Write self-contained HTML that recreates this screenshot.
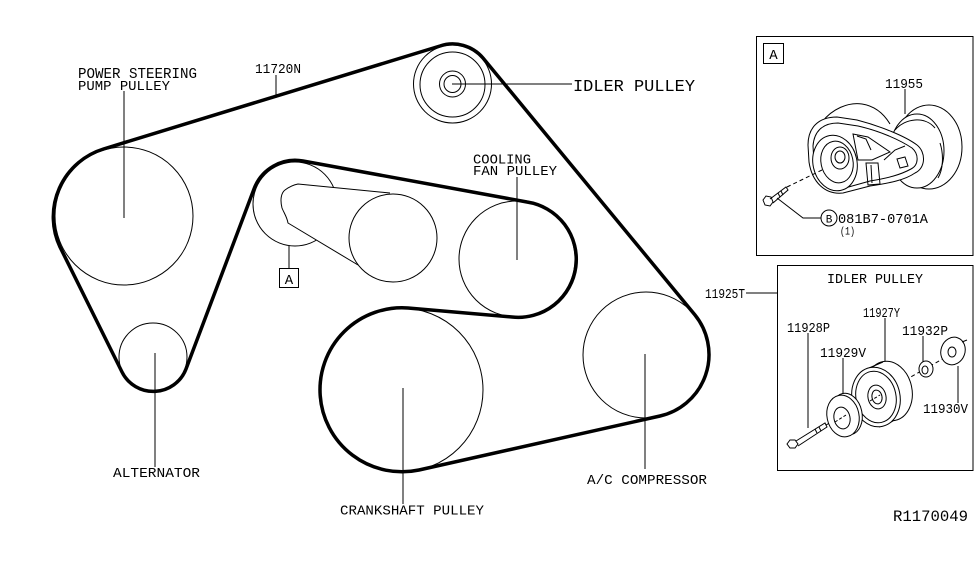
<!DOCTYPE html>
<html>
<head>
<meta charset="utf-8">
<style>
html,body{margin:0;padding:0;background:#fff;}
svg{display:block;}
text{font-family:"Liberation Mono","DejaVu Sans Mono",monospace;fill:#000;}
</style>
</head>
<body>
<svg width="975" height="566" viewBox="0 0 975 566" xmlns="http://www.w3.org/2000/svg">
<rect width="975" height="566" fill="#fff"/>
<g fill="none" stroke="#000" stroke-width="1">
  <!-- pulleys -->
  <circle cx="124" cy="216" r="69"/>
  <circle cx="153" cy="357" r="34"/>
  <circle cx="401" cy="390" r="82"/>
  <circle cx="646" cy="355" r="63"/>
  <circle cx="517" cy="259" r="58"/>
  <!-- idler -->
  <circle cx="452.5" cy="84" r="39"/>
  <circle cx="452.5" cy="84.5" r="32.5"/>
  <circle cx="452.5" cy="84" r="13"/>
  <circle cx="452.5" cy="84" r="8.5"/>
  <!-- tensioner -->
  <circle cx="295" cy="204" r="42"/>
  <path d="M298 184 L390 193 L393 238 L358 265 L288 223 C287 217 284 213 282 208 C280 200 281 193 285 190 C289 187 293 185 298 184 Z" fill="#fff" stroke="none"/>
  <path d="M390 193 L298 184 C293 185 289 187 285 190 C281 193 280 200 282 208 C284 213 287 217 288 223 L358 265"/>
  <circle cx="393" cy="238" r="44"/>
  <!-- leaders -->
  <line x1="124" y1="91" x2="124" y2="218"/>
  <line x1="276" y1="75" x2="276" y2="98"/>
  <line x1="452" y1="84" x2="572" y2="84"/>
  <line x1="517" y1="177" x2="517" y2="260"/>
  <line x1="289" y1="246" x2="289" y2="268"/>
  <rect x="279.5" y="268.5" width="19" height="19"/>
  <line x1="155" y1="353" x2="155" y2="467"/>
  <line x1="403" y1="388" x2="403" y2="504"/>
  <line x1="645" y1="354" x2="645" y2="469"/>
</g>
<!-- belt -->
<path d="M103.5 149 L440 46 A40 40 0 0 1 483 58 L695 315 A63 63 0 0 1 660 416 L419 470 A82 82 0 1 1 408 308 L512 317 A58 58 0 0 0 527 202 L303 161 A44 44 0 0 0 254 189 L186 369 A35 35 0 0 1 122 372 L60 247 A71 71 0 0 1 103.5 149 Z" fill="none" stroke="#000" stroke-width="3.5" stroke-linejoin="round"/>

<!-- main labels -->
<text x="78" y="78" font-size="14.5" textLength="119" lengthAdjust="spacingAndGlyphs">POWER STEERING</text>
<text x="78" y="90" font-size="14" textLength="92" lengthAdjust="spacingAndGlyphs">PUMP PULLEY</text>
<text x="255" y="73" font-size="14" textLength="46" lengthAdjust="spacingAndGlyphs">11720N</text>
<text x="573" y="91" font-size="16.5" textLength="122" lengthAdjust="spacingAndGlyphs">IDLER PULLEY</text>
<text x="473" y="163.5" font-size="14" textLength="58" lengthAdjust="spacingAndGlyphs">COOLING</text>
<text x="473" y="175" font-size="14" textLength="84" lengthAdjust="spacingAndGlyphs">FAN PULLEY</text>
<text x="289" y="284" font-size="14" text-anchor="middle">A</text>
<text x="113" y="477" font-size="14" textLength="87" lengthAdjust="spacingAndGlyphs">ALTERNATOR</text>
<text x="340" y="514.5" font-size="14" textLength="144" lengthAdjust="spacingAndGlyphs">CRANKSHAFT PULLEY</text>
<text x="587" y="484" font-size="14" textLength="120" lengthAdjust="spacingAndGlyphs">A/C COMPRESSOR</text>
<text x="893" y="521" font-size="16" textLength="75" lengthAdjust="spacingAndGlyphs">R1170049</text>

<!-- Inset A -->
<g fill="none" stroke="#000" stroke-width="1">
  <rect x="756.5" y="36.5" width="216.5" height="219"/>
  <rect x="763.5" y="43.5" width="20" height="20"/>
  <line x1="905" y1="89" x2="905" y2="114"/>
  <!-- back hump -->
  <path d="M822 122 C832 109 848 102 862 104 C875 106 884 114 890 124" fill="#fff"/>
  <!-- right pulley -->
  <ellipse cx="929" cy="147" rx="33" ry="42" fill="#fff"/>
  <ellipse cx="917" cy="151" rx="27" ry="37" fill="#fff"/>
  <path d="M895 130 C905 118 925 116 935 128 M940 143 C944 155 943 170 938 178"/>
  <!-- arm -->
  <path d="M808 145 C808 128 818 117 837 117 L857 120 C880 126 905 136 917 145 C926 152 926 168 915 173 C905 180 890 183 870 186 L843 193 C825 195 812 182 809 162 Z" fill="#fff"/>
  <path d="M813 146 C814 132 822 123 838 123 L858 126 C880 131 900 140 912 148 C919 154 919 165 911 169 C900 175 888 178 870 181 L845 188 C830 190 817 180 814 162 Z"/>
  <path d="M853 134 L868 137 L890 152 L872 160 L858 160 Z"/>
  <path d="M857 136 L866 139 L871 150"/>
  <path d="M866 163 L878 163 L880 184 L868 185 Z"/>
  <path d="M871 165 L872 183"/>
  <path d="M897 159 L905 157 L908 166 L900 168 Z"/>
  <path d="M884 160 L895 150 L905 146"/>
  <!-- left pulley -->
  <ellipse cx="835" cy="163" rx="22" ry="28" transform="rotate(-12 835 163)" fill="#fff"/>
  <ellipse cx="837" cy="162" rx="16" ry="21" transform="rotate(-12 837 162)"/>
  <ellipse cx="840" cy="158" rx="9" ry="11"/>
  <ellipse cx="840" cy="157" rx="5" ry="6"/>
  <!-- bolt -->
  <line x1="787" y1="187" x2="822" y2="170" stroke-dasharray="4 3"/>
  <path d="M763 200 L766 196 L771 197 L773 202 L770 206 L765 205 Z"/>
  <path d="M770 199 L786 187 L788 190 L773 203"/>
  <path d="M778 193 L780 197 M781 191 L783 195"/>
  <path d="M777 198 L803 218 L821 218"/>
  <circle cx="829" cy="218" r="8"/>
</g>
<text x="773.5" y="59" font-size="14" text-anchor="middle">A</text>
<text x="885" y="88" font-size="14" textLength="38" lengthAdjust="spacingAndGlyphs">11955</text>
<text x="829" y="222.5" font-size="11" text-anchor="middle">B</text>
<text x="838" y="223" font-size="13.5" textLength="90" lengthAdjust="spacingAndGlyphs">081B7-0701A</text>
<text x="840" y="234.5" font-size="11" textLength="15" lengthAdjust="spacingAndGlyphs">(1)</text>

<!-- Inset Idler -->
<g fill="none" stroke="#000" stroke-width="1">
  <rect x="777.5" y="265.5" width="195.5" height="205"/>
  <line x1="746" y1="293" x2="777" y2="293"/>
  <line x1="885" y1="318" x2="885" y2="363"/>
  <line x1="808" y1="333" x2="808" y2="428"/>
  <line x1="923" y1="336" x2="923" y2="362"/>
  <line x1="843" y1="358" x2="843" y2="396"/>
  <line x1="958" y1="366" x2="958" y2="403"/>
  <line x1="826" y1="425" x2="946" y2="357" stroke-dasharray="4 3"/>
  <!-- big pulley -->
  <ellipse cx="889" cy="391" rx="23" ry="30" transform="rotate(-12 889 391)" fill="#fff"/>
  <path d="M869 368 L883 362 M879 427 L893 421"/>
  <ellipse cx="876" cy="397" rx="24" ry="30" transform="rotate(-12 876 397)" fill="#fff"/>
  <ellipse cx="876" cy="397" rx="20" ry="26" transform="rotate(-12 876 397)"/>
  <ellipse cx="877" cy="397" rx="9" ry="12" transform="rotate(-12 877 397)"/>
  <ellipse cx="877" cy="397" rx="5" ry="7" transform="rotate(-12 877 397)"/>
  <line x1="870" y1="401" x2="880" y2="395" stroke-dasharray="3 2"/>
  <!-- washer -->
  <ellipse cx="847" cy="414" rx="15" ry="21" transform="rotate(-12 847 414)" fill="#fff"/>
  <ellipse cx="843" cy="416" rx="16" ry="21" transform="rotate(-12 843 416)" fill="#fff"/>
  <ellipse cx="842" cy="418" rx="8" ry="11" transform="rotate(-12 842 418)"/>
  <line x1="835" y1="422" x2="846" y2="415" stroke-dasharray="3 2"/>
  <!-- nut -->
  <ellipse cx="926" cy="369" rx="7" ry="8" fill="#fff"/>
  <ellipse cx="925" cy="370" rx="3" ry="4"/>
  <!-- cap -->
  <ellipse cx="953" cy="351" rx="12" ry="14" transform="rotate(20 953 351)" fill="#fff"/>
  <ellipse cx="952" cy="352" rx="4" ry="5"/>
  <path d="M962 342 L967 340"/>
  <!-- bolt -->
  <path d="M787 444 L790 440 L795 440 L798 444 L795 448 L790 448 Z" fill="#fff"/>
  <path d="M796 441 L825 423 L827 427 L798 446"/>
  <path d="M815 429 L817 433 M819 427 L821 431"/>
</g>
<text x="827" y="283" font-size="13.5" textLength="96" lengthAdjust="spacingAndGlyphs">IDLER PULLEY</text>
<text x="705" y="298" font-size="13.5" textLength="40" lengthAdjust="spacingAndGlyphs">11925T</text>
<text x="863" y="317" font-size="14" textLength="37" lengthAdjust="spacingAndGlyphs">11927Y</text>
<text x="787" y="332" font-size="14" textLength="43" lengthAdjust="spacingAndGlyphs">11928P</text>
<text x="902" y="335" font-size="14" textLength="46" lengthAdjust="spacingAndGlyphs">11932P</text>
<text x="820" y="357" font-size="14" textLength="46" lengthAdjust="spacingAndGlyphs">11929V</text>
<text x="923" y="413" font-size="14" textLength="45" lengthAdjust="spacingAndGlyphs">11930V</text>
</svg>
</body>
</html>
